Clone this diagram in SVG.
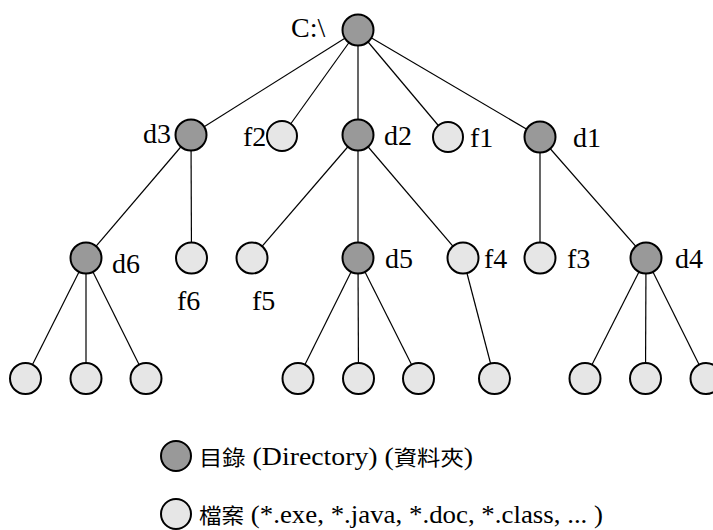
<svg xmlns="http://www.w3.org/2000/svg" width="713" height="530" viewBox="0 0 713 530">
<style>
.dir{fill:#999999;stroke:#000;stroke-width:2}
.file{fill:#e6e6e6;stroke:#000;stroke-width:2}
.lbl{font-family:'Liberation Serif',serif;font-size:28px;fill:#000}
.leg{font-family:'Liberation Serif',serif;font-size:25px;fill:#000}
.cjk{font-family:'Noto Sans CJK TC',sans-serif;font-size:21px}
#edges line{stroke:#000;stroke-width:1.2}
</style>
<g id="edges">
<line x1="358" y1="30" x2="191" y2="135"/>
<line x1="358" y1="30" x2="282" y2="136"/>
<line x1="358" y1="30" x2="358" y2="135"/>
<line x1="358" y1="30" x2="448" y2="137"/>
<line x1="358" y1="30" x2="540" y2="137"/>
<line x1="191" y1="135" x2="86" y2="258"/>
<line x1="191" y1="135" x2="191.5" y2="258"/>
<line x1="358" y1="135" x2="252" y2="258"/>
<line x1="358" y1="135" x2="358" y2="258"/>
<line x1="358" y1="135" x2="463" y2="258"/>
<line x1="540" y1="137" x2="540" y2="258"/>
<line x1="540" y1="137" x2="646" y2="258"/>
<line x1="86" y1="258" x2="25.5" y2="378.5"/>
<line x1="86" y1="258" x2="86" y2="378.5"/>
<line x1="86" y1="258" x2="146" y2="378.5"/>
<line x1="358" y1="258" x2="298" y2="378.5"/>
<line x1="358" y1="258" x2="358.5" y2="378.5"/>
<line x1="358" y1="258" x2="418.5" y2="378.5"/>
<line x1="463" y1="258" x2="494.5" y2="378.5"/>
<line x1="646" y1="258" x2="585" y2="378.5"/>
<line x1="646" y1="258" x2="645.5" y2="378.5"/>
<line x1="646" y1="258" x2="706" y2="378.5"/>
</g>
<g id="root"><circle class="dir" cx="358" cy="30" r="15.5"/><text class="lbl" x="291" y="37">C:\</text></g>
<g id="d3"><circle class="dir" cx="191" cy="135" r="15.5"/><text class="lbl" x="143" y="143">d3</text></g>
<g id="f2"><circle class="file" cx="282" cy="136" r="15"/><text class="lbl" x="243" y="146">f2</text></g>
<g id="d2"><circle class="dir" cx="358" cy="135" r="15.5"/><text class="lbl" x="384" y="145">d2</text></g>
<g id="f1"><circle class="file" cx="448" cy="137" r="15"/><text class="lbl" x="470" y="147">f1</text></g>
<g id="d1"><circle class="dir" cx="540" cy="137" r="15.5"/><text class="lbl" x="573" y="147">d1</text></g>
<g id="d6"><circle class="dir" cx="86" cy="258" r="15.5"/><text class="lbl" x="112" y="273">d6</text></g>
<g id="f6"><circle class="file" cx="191.5" cy="258" r="15.5"/><text class="lbl" x="177" y="310">f6</text></g>
<g id="f5"><circle class="file" cx="252" cy="258" r="15.5"/><text class="lbl" x="252" y="310">f5</text></g>
<g id="d5"><circle class="dir" cx="358" cy="258" r="15.5"/><text class="lbl" x="385" y="268">d5</text></g>
<g id="f4"><circle class="file" cx="463" cy="258" r="15.5"/><text class="lbl" x="484" y="268">f4</text></g>
<g id="f3"><circle class="file" cx="540" cy="258" r="15.5"/><text class="lbl" x="567" y="268">f3</text></g>
<g id="d4"><circle class="dir" cx="646" cy="258" r="15.5"/><text class="lbl" x="675" y="268">d4</text></g>
<g id="leaf1"><circle class="file" cx="25.5" cy="378.5" r="15.5"/></g>
<g id="leaf2"><circle class="file" cx="86" cy="378.5" r="15.5"/></g>
<g id="leaf3"><circle class="file" cx="146" cy="378.5" r="15.5"/></g>
<g id="leaf4"><circle class="file" cx="298" cy="378.5" r="15.5"/></g>
<g id="leaf5"><circle class="file" cx="358.5" cy="378.5" r="15.5"/></g>
<g id="leaf6"><circle class="file" cx="418.5" cy="378.5" r="15.5"/></g>
<g id="leaf7"><circle class="file" cx="494.5" cy="378.5" r="15.5"/></g>
<g id="leaf8"><circle class="file" cx="585" cy="378.5" r="15.5"/></g>
<g id="leaf9"><circle class="file" cx="645.5" cy="378.5" r="15.5"/></g>
<g id="leaf10"><circle class="file" cx="706" cy="378.5" r="15.5"/></g>
<g id="legend-dir"><circle class="dir" cx="176" cy="456" r="15"/><text class="leg" x="199" y="465" textLength="274" lengthAdjust="spacingAndGlyphs"><tspan class="cjk">目錄</tspan> (Directory) (<tspan class="cjk">資料夾</tspan>)</text></g>
<g id="legend-file"><circle class="file" cx="176" cy="514" r="15"/><text class="leg" x="199" y="523" textLength="404" lengthAdjust="spacingAndGlyphs"><tspan class="cjk">檔案</tspan> (*.exe, *.java, *.doc, *.class,  ... )</text></g>
</svg>
